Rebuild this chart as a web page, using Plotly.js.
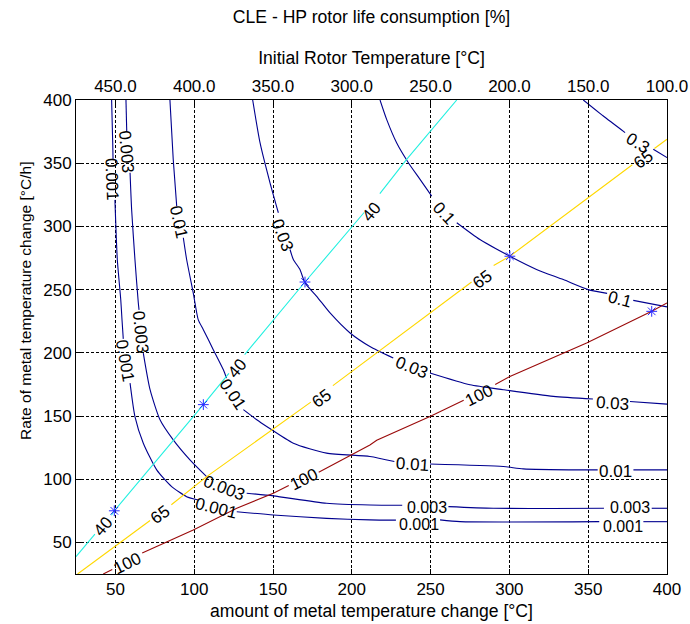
<!DOCTYPE html>
<html>
<head>
<meta charset="utf-8">
<script src="https://cdn.plot.ly/plotly-3.0.1.min.js"></script>
<style>html,body{margin:0;padding:0;background:#fff;}#chart{width:690px;height:624px;}</style>
</head>
<body>
<div id="chart"></div>
<script>
// ---- data (x: amount of change [°C], y: rate [°C/h]) ----
// life-consumption contour 0.001
const c001x = [47.6, 48.3, 48.5, null, 49.7, 51.2, 53.4, 54.2, 55.0, null, 59.3, 62.4, 67.7, 76.2, 85.7, 95.2, 102.6, null, 127.0, 150.2, 184.0, 211.5, 228.0, null, 256.0, 268.7, 357.0, null, 385.0, 400.0];
const c001y = [400, 366, 353, null, 321, 274, 242, 226, 211, null, 176, 149.6, 128.5, 107.4, 94.1, 86.2, 83.6, null, 74.3, 71.7, 69.0, 67.8, 67.6, null, 67.8, 66.4, 66.4, null, 66.4, 66.4];
// contour 0.003
const c003x = [56.7, 57.2, null, 59.3, 60.3, 62.4, 64.5, 65.0, null, 67.7, 72.0, 78.3, 86.7, 97.3, 107.9, null, 133.3, 150.2, 184.0, 211.5, 232.0, null, 261.3, 289.8, 360.0, null, 390.3, 400.0];
const c003y = [400, 375, null, 342.5, 313.4, 273.8, 240, 234, null, 199.8, 170.8, 147.0, 131.1, 115.3, 102.0, null, 88.9, 86.8, 81.0, 79.6, 79.4, null, 78.3, 77.0, 77.0, null, 77.0, 77.0];
// contour 0.01
const c01x = [84.6, 86.7, 88.9, null, 93.1, 95.2, 99.4, 102.6, 105.8, 112.1, 118.5, 120.5, null, 131.2, 139.7, 146.0, 162.9, 184.0, 211.5, 227.0, null, 249.6, 296.1, 308.8, 344.8, 356.0, null, 378.7, 400.0];
const c01y = [400, 353, 316, null, 291, 273.8, 247.4, 226, 218.3, 202.5, 186.6, 180, null, 155, 147, 141.7, 128.5, 120.6, 118, 114, null, 112, 110, 108.2, 107.4, 107.4, null, 107.4, 107.4];
// contour 0.03
const c03x = [137.1, 141.8, 148.1, 153.4, null, 160.8, 162.9, 167.1, 170.3, 177.7, 186.2, 198.9, 211.5, 226.3, null, 249.6, 275.0, 296.1, 327.9, 353.0, null, 376.5, 400.0];
const c03y = [400, 366, 334.5, 310.8, null, 281.7, 273.8, 265.9, 255.3, 244.7, 231.5, 215.7, 205, 195.9, null, 184, 174.7, 170.8, 165.5, 163.4, null, 161.5, 159.4];
// contour 0.1
const c1x = [217.9, 222.1, 228.5, 235.9, 243.3, 250.7, null, 266.6, 281.3, 300.3, 317.2, 334.2, 350.0, 362.0, null, 378.6, 400.0];
const c1y = [400, 384.7, 366, 350.4, 337.2, 324, null, 302.9, 289.6, 276.4, 266, 257.9, 250, 247, null, 241.5, 236.3];
// contour 0.3
const c3x = [346.9, 359.6, 373.4, null, 391.3, 400.0];
const c3y = [400, 387.3, 374.2, null, 361, 354.4];
// initial-temperature lines 40 / 65 / 100
const t40x = [25.0, 37.0, null, 47.5, 49.3, 105.8, 122.0, null, 132.0, 170.3, 207.8, null, 217.8, 234.8, 266.6];
const t40y = [38.7, 56.5, null, 71.5, 75.0, 159.0, 183.7, null, 198.6, 256.0, 311.0, null, 326.0, 353.0, 400.0];
const t65x = [26.0, 49.3, 72.0, null, 85.5, 107.9, 174.0, null, 188.0, 215.8, 245.4, 276.0, null, 290.0, 300.3, 378.0, null, 392.0, 400.0];
const t65y = [25.0, 46.7, 67.3, null, 79.8, 102.0, 161.0, null, 174.0, 199.8, 227.6, 256.0, null, 269.0, 276.4, 348.8, null, 361.6, 368.9];
const t100x = [42.3, 48.0, null, 67.0, 99.4, 127.0, 150.2, 160.0, null, 179.0, 211.5, 215.8, 249.6, 271.0, null, 291.0, 300.3, 349.0, 390.3, 400.0];
const t100y = [25.0, 28.5, null, 41.6, 59.8, 77.0, 88.9, 95.0, null, 105.5, 127.0, 130.8, 149.6, 162.5, null, 175.0, 181.3, 207.8, 232.8, 239.5];
// operating points (*)
const starX = [49.3, 105.8, 170.3, 300.3, 390.3];
const starY = [75.0, 159.0, 256.0, 276.4, 232.8];
// contour labels
const labText = ["0.001", "0.003", "0.01", "0.03", "0.003", "0.001", "0.01", "40", "40", "40", "65", "65", "65", "65", "100", "100", "100", "0.003", "0.001", "0.01", "0.01", "0.003", "0.003", "0.001", "0.001", "0.03", "0.03", "0.1", "0.1", "0.3"];
const labX = [47.6, 57.2, 89.9, 156.1, 65.6, 56.1, 124.5, 127.4, 42.3, 212.8, 78.7, 180.9, 283.0, 385.0, 57.6, 169.7, 280.9, 119.5, 114.3, 238.6, 367.4, 247.5, 376.5, 242.9, 371.9, 238.0, 365.3, 258.5, 370.2, 381.8];
const labY = [337, 358.8, 303.6, 293, 215.7, 194, 167, 187.5, 62.4, 311.8, 71.7, 164.2, 257.9, 353, 33.4, 99.5, 166, 92.9, 77, 112, 106, 78.0, 77.6, 63.8, 62.8, 188, 160.2, 310.2, 242, 365.7];
const labAngle = [88, 85, 78, 69, 84, 80, 56, -50, -50, -50, -36, -36, -36, -36, -26, -26, -26, 21, 14, 4, 0, 0, 0, 0, 0, 22, 4, 47, 15, 31];
// axes
const bottomTicks = [50, 100, 150, 200, 250, 300, 350, 400];
const leftTicks = [50, 100, 150, 200, 250, 300, 350, 400];
const topTicks = [450, 400, 350, 300, 250, 200, 150, 100];

const FONT = "Arial, 'Liberation Sans', sans-serif";
const navy = '#00008f';
function line(x, y, color, smooth) {
  const ln = {color: color, width: 1.1};
  if (smooth) { ln.shape = 'spline'; ln.smoothing = 0.6; }
  return {x: x, y: y, type: 'scatter', mode: 'lines', connectgaps: false,
          line: ln, hoverinfo: 'skip', showlegend: false};
}
const traces = [
  line(c001x, c001y, navy, true), line(c003x, c003y, navy, true), line(c01x, c01y, navy, true),
  line(c03x, c03y, navy, true), line(c1x, c1y, navy, true), line(c3x, c3y, navy, true),
  line(t40x, t40y, '#22f0e0'), line(t65x, t65y, '#ffd800'), line(t100x, t100y, '#9a0a0a'),
  {x: starX, y: starY, type: 'scatter', mode: 'markers', showlegend: false, hoverinfo: 'skip',
   marker: {symbol: 'asterisk-open', size: 9, color: '#2a2aff', line: {color: '#2a2aff', width: 1}}},
  {x: topTicks, y: topTicks.map(() => null), xaxis: 'x2', yaxis: 'y', type: 'scatter', mode: 'lines',
   showlegend: false, hoverinfo: 'skip'}
];

const annotations = labText.map((t, i) => ({
  text: t, x: labX[i], y: labY[i], xref: 'x', yref: 'y', showarrow: false,
  textangle: labAngle[i], borderpad: 0,
  font: {family: FONT, size: (Math.abs(labY[i] - 70) < 10 && labX[i] > 200) ? 16 : 17, color: '#000'}
}));
annotations.push({
  text: 'Rate of metal temperature change [°C/h]', xref: 'paper', yref: 'paper',
  x: (25 - 76) / 591, y: (574 - 301) / 474, xanchor: 'center', yanchor: 'middle',
  showarrow: false, textangle: -90,
  font: {family: FONT, size: 15.5, color: '#000'}
});

const axisCommon = {
  showgrid: true, gridcolor: '#000', gridwidth: 1, griddash: '3px,2px',
  zeroline: false, showline: true, linecolor: '#000', linewidth: 1,
  ticks: 'inside', ticklen: 5, tickcolor: '#000',
  tickfont: {family: FONT, size: 17, color: '#000'}
};

const layout = {
  width: 690, height: 624,
  margin: {l: 76, r: 23, t: 100, b: 50, pad: 0},
  paper_bgcolor: '#fff', plot_bgcolor: '#fff',
  font: {family: FONT, size: 17, color: '#000'},
  title: {text: 'CLE - HP rotor life consumption [%]', x: 0.5, xref: 'paper',
          y: 1 - 17 / 624, yref: 'container', yanchor: 'middle',
          font: {family: FONT, size: 17.6, color: '#000'}},
  xaxis: Object.assign({}, axisCommon, {
    range: [25, 400], tickvals: bottomTicks, mirror: true,
    title: {text: 'amount of metal temperature change [°C]', standoff: 6,
            font: {family: FONT, size: 17.6, color: '#000'}}
  }),
  xaxis2: Object.assign({}, axisCommon, {
    overlaying: 'x', side: 'top', anchor: 'y', range: [475, 100],
    tickvals: topTicks, tickformat: '.1f', showgrid: false,
    title: {text: 'Initial Rotor Temperature [°C]', standoff: 8,
            font: {family: FONT, size: 17.6, color: '#000'}}
  }),
  yaxis: Object.assign({}, axisCommon, {
    range: [25, 400], tickvals: leftTicks, mirror: 'ticks'
  }),
  annotations: annotations
};

Plotly.newPlot('chart', traces, layout, {displayModeBar: false, staticPlot: true});
</script>
</body>
</html>
